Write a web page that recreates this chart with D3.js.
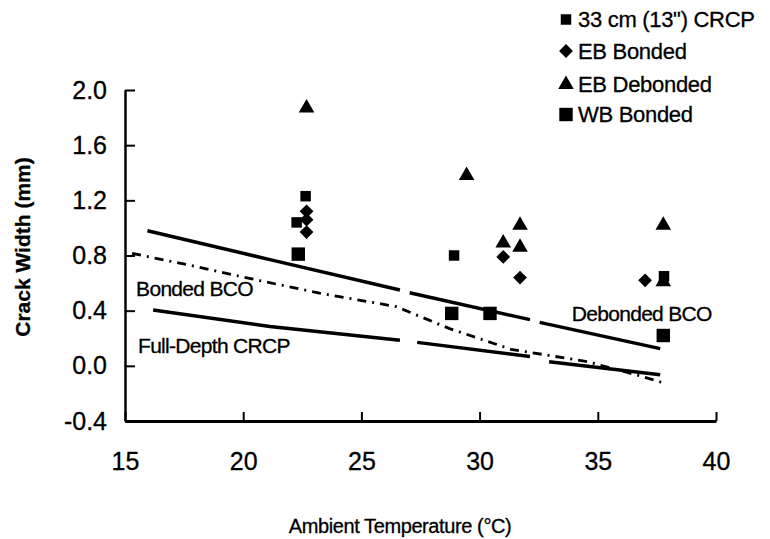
<!DOCTYPE html>
<html>
<head>
<meta charset="utf-8">
<script src="https://cdn.jsdelivr.net/npm/d3@7"></script>
<style>
  body { margin: 0; background: #fff; }
  svg text { font-family: "Liberation Sans", Arial, sans-serif; fill: #000; stroke: #000; stroke-width: 0.3px; }
</style>
</head>
<body>
<svg id="chart" width="770" height="539"></svg>
<script>
// tick values
const xTicks = [15, 20, 25, 30, 35, 40];
const yTicks = [-0.4, 0.0, 0.4, 0.8, 1.2, 1.6, 2.0];

// measured points [temperature, crack width]
const crcp33 = [[22.64, 1.23], [22.26, 1.04], [28.92, 0.80], [37.8, 0.65]];
const ebBonded = [[22.68, 1.12], [22.68, 1.06], [22.68, 0.97], [31.0, 0.79], [31.71, 0.64], [37.0, 0.62]];
const ebDebonded = [[22.68, 1.87], [29.45, 1.38], [31.0, 0.89], [31.71, 1.02], [31.71, 0.86], [37.77, 1.02], [37.77, 0.61]];
const wbBonded = [[22.33, 0.81], [28.82, 0.38], [30.44, 0.38], [37.77, 0.22]];

// model lines, split where the original has gaps
const debondedBCO = [
    [[15.95, 0.98], [21.13, 0.77], [26.63, 0.55]],
    [[27.04, 0.53], [32.13, 0.335]],
    [[32.54, 0.315], [37.64, 0.125]]
];
const fullDepthCRCP = [
    [[16.19, 0.405], [21.13, 0.285], [26.63, 0.185]],
    [[27.36, 0.17], [32.13, 0.068]],
    [[32.94, 0.03], [37.64, -0.065]]
];
const bondedBCO = [
    [[15.3, 0.815], [17.73, 0.73], [20.64, 0.62], [23.23, 0.527], [26.46, 0.43],
     [28.73, 0.27], [31.33, 0.12], [34.56, 0.03], [36.83, -0.075], [37.8, -0.125]]
];

const lineLabels = [
    { text: 'Bonded BCO', x: 15.47, y: 0.507 },
    { text: 'Full-Depth CRCP', x: 15.55, y: 0.094 },
    { text: 'Debonded BCO', x: 33.9, y: 0.326 }
];
const legendNames = ['33 cm (13") CRCP', 'EB Bonded', 'EB Debonded', 'WB Bonded'];

const svg = d3.select('#chart');
const x = d3.scaleLinear().domain([15, 40]).range([125, 716]);
const y = d3.scaleLinear().domain([-0.4, 2.0]).range([421, 90]);

// axes, ticks point inward
const yAxis = svg.append('g')
    .attr('transform', 'translate(' + x(15) + ',0)')
    .call(d3.axisLeft(y).tickValues(yTicks).tickSizeInner(-10).tickSizeOuter(0).tickPadding(18)
        .tickFormat(d => d3.format('.1f')(d).replace('\u2212', '-')));
yAxis.select('.domain').attr('stroke-width', 2.5);
yAxis.selectAll('.tick line').attr('stroke-width', 2);
yAxis.selectAll('.tick text').style('font-size', '25px');

const xAxis = svg.append('g')
    .attr('transform', 'translate(0,' + y(-0.4) + ')')
    .call(d3.axisBottom(x).tickValues(xTicks).tickSizeInner(-9).tickSizeOuter(0).tickPadding(31));
xAxis.select('.domain').attr('stroke-width', 3);
xAxis.selectAll('.tick line').attr('stroke-width', 2);
xAxis.selectAll('.tick text').style('font-size', '25px');
svg.selectAll('.domain, .tick line').attr('stroke', '#000');

svg.append('text')
    .attr('transform', 'translate(30,247) rotate(-90)')
    .attr('text-anchor', 'middle')
    .style('font-size', '21px')
    .style('font-weight', 'bold')
    .text('Crack Width (mm)');

svg.append('text')
    .attr('x', 400)
    .attr('y', 533)
    .attr('text-anchor', 'middle')
    .style('font-size', '20px')
    .style('letter-spacing', '-0.4px')
    .text('Ambient Temperature (\u00B0C)');

// lines
const line = d3.line().x(d => x(d[0])).y(d => y(d[1]));
svg.append('g').selectAll('path')
    .data(debondedBCO.concat(fullDepthCRCP))
    .join('path')
    .attr('d', line)
    .attr('fill', 'none')
    .attr('stroke', '#000')
    .attr('stroke-width', 3.5);
svg.append('g').selectAll('path')
    .data(bondedBCO)
    .join('path')
    .attr('d', line)
    .attr('fill', 'none')
    .attr('stroke', '#000')
    .attr('stroke-width', 2.8)
    .attr('stroke-dasharray', '9,6,2,6');

svg.append('g').selectAll('text')
    .data(lineLabels)
    .join('text')
    .attr('x', d => x(d.x))
    .attr('y', d => y(d.y))
    .style('font-size', '21px')
    .style('letter-spacing', '-0.7px')
    .text(d => d.text);

// markers
const smallSquare = d3.symbol().type(d3.symbolSquare).size(110);
const bigSquare = d3.symbol().type(d3.symbolSquare).size(180);
const diamond = d3.symbol().type(d3.symbolSquare).size(95);
const triangle = d3.symbol().type(d3.symbolTriangle).size(105);

function drawPoints(data, sym, rot) {
    svg.append('g').selectAll('path')
        .data(data)
        .join('path')
        .attr('d', sym)
        .attr('transform', d => 'translate(' + x(d[0]) + ',' + y(d[1]) + ') rotate(' + rot + ')')
        .attr('fill', '#000');
}
drawPoints(wbBonded, bigSquare, 0);
drawPoints(crcp33, smallSquare, 0);
drawPoints(ebBonded, diamond, 45);
drawPoints(ebDebonded, triangle, 0);

// legend
const legendSyms = [[smallSquare, 0], [diamond, 45], [triangle, 0], [bigSquare, 0]];
const legendY = [19.5, 51, 84.5, 114.5];
const legend = svg.append('g').selectAll('g')
    .data(legendNames)
    .join('g')
    .attr('transform', (d, i) => 'translate(566,' + legendY[i] + ')');
legend.append('path')
    .attr('d', (d, i) => legendSyms[i][0]())
    .attr('transform', (d, i) => 'rotate(' + legendSyms[i][1] + ')')
    .attr('fill', '#000');
legend.append('text')
    .attr('x', 12)
    .attr('y', 7.5)
    .style('font-size', '22px')
    .style('letter-spacing', '-0.3px')
    .text(d => d);
</script>
</body>
</html>
